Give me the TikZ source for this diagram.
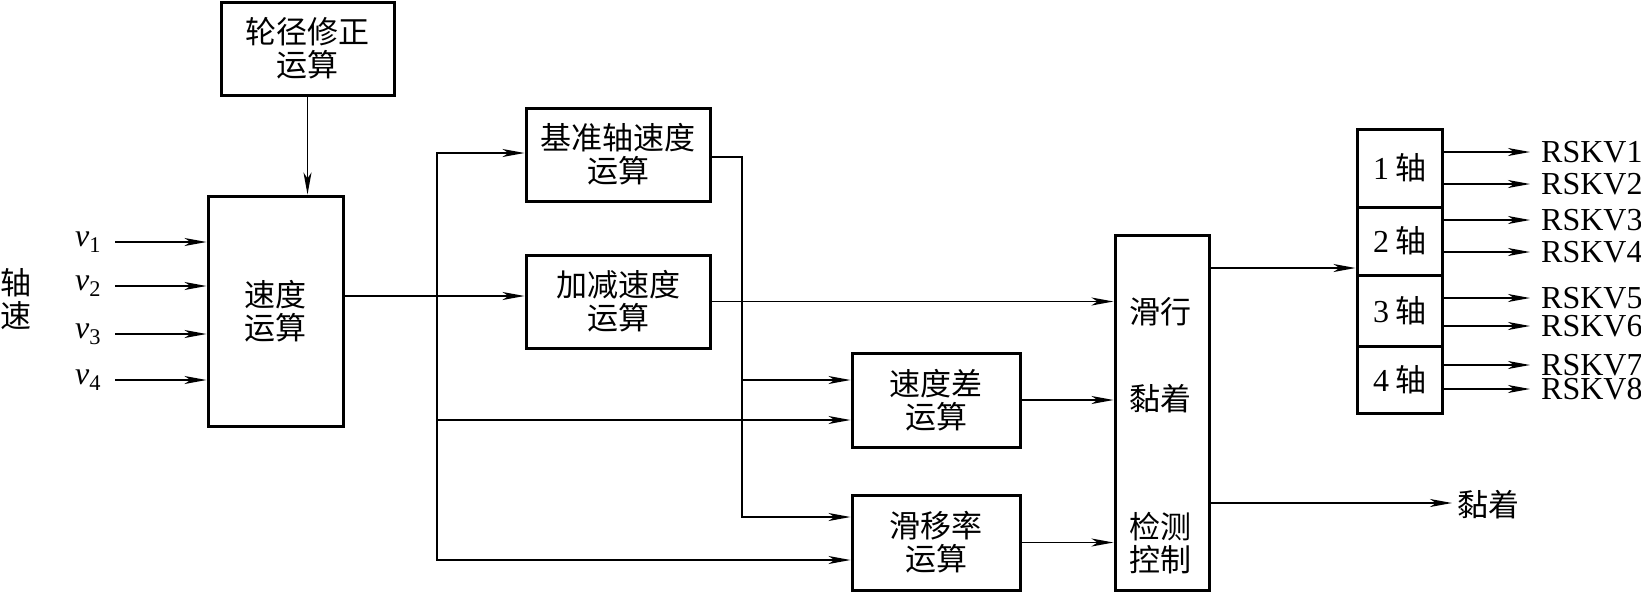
\documentclass[tikz,border=0pt]{standalone}
\usepackage{fontspec}
\setmainfont{Liberation Serif}
\newfontfamily\cjk{Noto Sans CJK SC}
\usetikzlibrary{arrows.meta}

\begin{document}
\begin{tikzpicture}[x=1pt,y=-1pt,
  blk/.style={draw,line width=3pt,inner sep=0pt,align=center,
    font=\cjk\fontsize{31}{33}\selectfont},
  lbl/.style={inner sep=0pt,align=center,
    font=\cjk\fontsize{31}{33}\selectfont},
  sig/.style={inner sep=0pt,font=\fontsize{32}{34}\selectfont},
  conn/.style={line width=1.6pt},
  >={Stealth[length=22pt,width=8pt,inset=6pt]}
]
\useasboundingbox (0,0) rectangle (1641,592);
% boxes
\node[blk,minimum width=173pt,minimum height=93pt] (lj)
  at (307.5,48.5) {轮径修正\\运算};
\node[blk,minimum width=135pt,minimum height=230pt] (sd)
  at (275.5,311) {速度\\运算};
\node[blk,minimum width=184pt,minimum height=93pt] (jz)
  at (618,154.5) {基准轴速度\\运算};
\node[blk,minimum width=184pt,minimum height=93pt] (jj)
  at (618,301.5) {加减速度\\运算};
\node[blk,minimum width=168pt,minimum height=94pt] (sc)
  at (936,400) {速度差\\运算};
\node[blk,minimum width=168pt,minimum height=95pt] (hy)
  at (936,542.5) {滑移率\\运算};
\node[blk,minimum width=94pt,minimum height=355pt] (jc)
  at (1162,412.5) {};
\node[lbl] (hx)  at (1160,312) {滑行};
\node[lbl] (nzi) at (1160,399) {黏着};
\node[lbl] (jk)  at (1160,543) {检测\\控制};
\foreach \n/\yc/\h in {1/168/78,2/241/68,3/310.5/71,4/379.5/67}
  \node[blk,minimum width=85pt,minimum height=\h pt] (ax\n)
    at (1399.5,\yc) {{\rmfamily\fontsize{32}{34}\selectfont\n}\hspace{6pt}轴};
% inputs
\node[lbl] (zs) at (16,299) {轴\\速};
\foreach \i/\yy in {1/242,2/286,3/334,4/380}{
  \node[sig] (v\i) at (88,\yy) {\textit{v}\textsubscript{\i}};
  \draw[conn,->] ([xshift=14pt]v\i.east) -- (v\i.east -| sd.west);
}
\draw[conn,->] (lj.south) -- (lj.south |- sd.north);
% bus
\coordinate (bus) at (437,296);
\coordinate (bt) at (437,153);
\coordinate (bm) at (437,420);
\coordinate (bb) at (437,560);
\draw[conn,->] (sd.east |- bus) -- (jj.west |- bus);
\draw[conn,->] (bus) -- (bt) -- (bt -| jz.west);
\draw[conn,->] (bus) -- (bb) -- (bb -| hy.west);
\draw[conn,->] (bm) -- (bm -| sc.west);
\coordinate (rt) at (742,157);
\coordinate (rm) at (742,380);
\coordinate (rb) at (742,517);
\draw[conn,->] (jz.east |- rt) -- (rt) -- (rb) -- (rb -| hy.west);
\draw[conn,->] (rm) -- (rm -| sc.west);
\draw[conn,->] (jj.east) -- (jj.east -| jc.west);
\draw[conn,->] (sc.east) -- (sc.east -| jc.west);
\draw[conn,->] (hy.east) -- (hy.east -| jc.west);
% outputs
\coordinate (jo1) at (1209,268);
\coordinate (jo2) at (1209,503);
\draw[conn,->] (jo1) -- (jo1 -| ax2.west);
\node[lbl,inner xsep=5pt,anchor=west] (nz) at (1452,505) {黏着};
\draw[conn,->] (jo2) -- (jo2 -| nz.west);
\foreach \i/\yy/\b in {1/152/1,2/184/1,3/220/2,4/252/2,
                       5/298/3,6/326/3,7/365/4,8/389/4}{
  \node[sig,inner xsep=11pt,anchor=west,text height=21pt,text depth=0pt]
    (rs\i) at (1530,\yy) {RSKV\i};
  \draw[conn,->] (ax\b.east |- rs\i.west) -- (rs\i.west);
}
\end{tikzpicture}
\end{document}
